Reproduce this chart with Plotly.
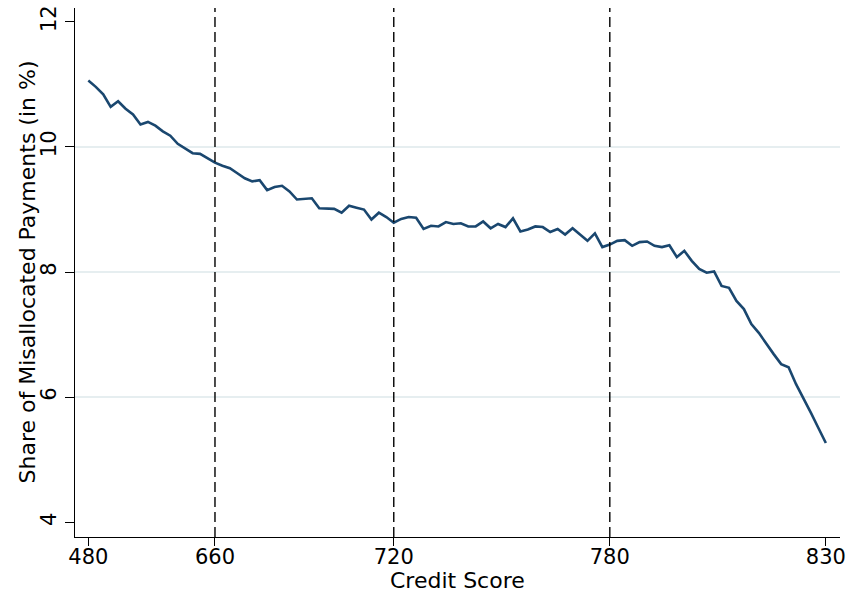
import plotly.graph_objects as go

# Credit-score percentile bins (1..100) and share of misallocated payments (%)
percentile = list(range(1, 101))
misallocated_share = [
    11.06, 10.96, 10.84, 10.64, 10.73, 10.61, 10.52, 10.36, 10.40, 10.34,
    10.25, 10.18, 10.05, 9.97, 9.90, 9.89, 9.82, 9.75, 9.70, 9.66,
    9.58, 9.50, 9.45, 9.47, 9.31, 9.36, 9.38, 9.29, 9.16, 9.17,
    9.18, 9.02, 9.01, 9.01, 8.95, 9.06, 9.03, 9.00, 8.84, 8.95,
    8.88, 8.79, 8.85, 8.88, 8.87, 8.69, 8.74, 8.73, 8.80, 8.77,
    8.78, 8.73, 8.73, 8.81, 8.70, 8.77, 8.72, 8.86, 8.65, 8.68,
    8.73, 8.72, 8.64, 8.69, 8.60, 8.70, 8.60, 8.50, 8.62, 8.40,
    8.44, 8.50, 8.51, 8.42, 8.48, 8.49, 8.42, 8.40, 8.43, 8.24,
    8.34, 8.18, 8.05, 7.99, 8.01, 7.78, 7.75, 7.54, 7.41, 7.17,
    7.03, 6.85, 6.69, 6.53, 6.48, 6.21, 5.99, 5.75, 5.51, 5.27,
]

# Credit score labels placed at their percentile positions
score_tick_positions = [1, 18, 42, 71, 100]
score_tick_labels = ["480", "660", "720", "780", "830"]
# Score cutoffs marked with dashed vertical lines
cutoff_positions = [18, 42, 71]

y_ticks = [4, 6, 8, 10, 12]
y_grid = [6, 8, 10]

x_title = "Credit Score"
y_title = "Share of Misallocated Payments (in %)"

FONT = "DejaVu Sans"
NAVY = "#1a476f"

fig = go.Figure()
fig.add_trace(go.Scatter(
    x=percentile, y=misallocated_share, mode="lines",
    line=dict(color=NAVY, width=2.6),
    showlegend=False,
))

for c in cutoff_positions:
    fig.add_shape(type="line", x0=c, x1=c, xref="x", y0=0, y1=1, yref="paper",
                  line=dict(color="black", width=1.4, dash="10px,5px"), layer="above")

# Axis titles placed as annotations for precise positioning
fig.add_annotation(text=x_title, x=0.5, y=0, xref="paper", yref="paper",
                   xanchor="center", yanchor="middle", yshift=-43,
                   showarrow=False, font=dict(size=22))
fig.add_annotation(text=y_title, x=0, y=0.5, xref="paper", yref="paper",
                   xanchor="center", yanchor="middle", xshift=-48,
                   textangle=-90, showarrow=False, font=dict(size=22))

fig.update_layout(
    width=849, height=595,
    margin=dict(l=75, r=9, t=8, b=58),
    paper_bgcolor="white", plot_bgcolor="white",
    font=dict(family=FONT, size=22, color="black"),
    xaxis=dict(
        range=[-0.79, 101.9], automargin=False,
        tickvals=score_tick_positions, ticktext=score_tick_labels,
        showline=True, linecolor="black", linewidth=1.3,
        ticks="outside", ticklen=8, tickwidth=1.3, tickcolor="black",
        ticklabelstandoff=-7,
        showgrid=False, zeroline=False,
        tickfont=dict(size=21),
    ),
    yaxis=dict(
        range=[3.768, 12.22], automargin=False,
        tickvals=y_ticks, tickangle=-90,
        showline=True, linecolor="black", linewidth=1.3,
        ticks="outside", ticklen=9, tickwidth=1.3, tickcolor="black",
        showgrid=False, zeroline=False,
        tickfont=dict(size=21),
        minor=dict(tickvals=y_grid, showgrid=True, gridcolor="#e6eef0",
                   gridwidth=2, ticks=""),
    ),
)

fig.write_html("out.html")
